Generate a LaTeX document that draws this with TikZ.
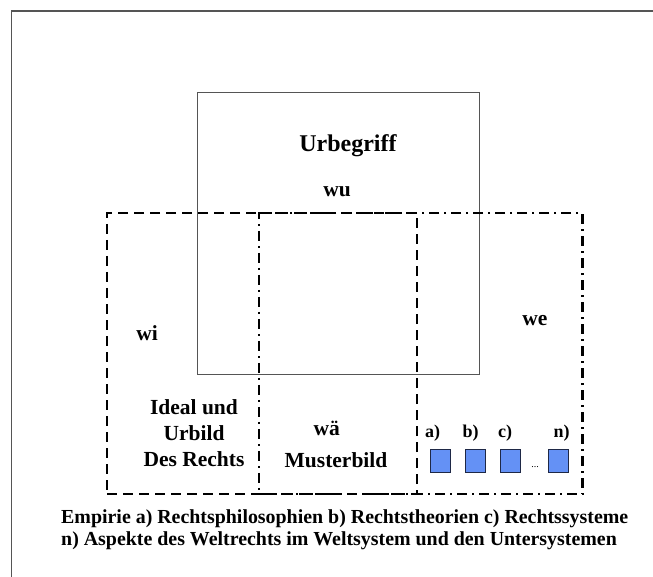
\documentclass[tikz,border=0pt]{standalone}
\usepackage{fontspec}
\setmainfont{Liberation Serif}
\usepackage{xcolor}
\definecolor{sqblue}{RGB}{100,145,245}
\definecolor{sqedge}{RGB}{30,40,70}
\definecolor{framegray}{RGB}{85,85,85}
\usepackage{tikz}
\usetikzlibrary{
  positioning
}
\tikzset{
  lbl/.style={font=\fontsize{21.5}{26}\selectfont\bfseries,
    inner sep=0pt, align=center},
  smalllbl/.style={font=\fontsize{18}{21}\selectfont\bfseries,
    inner sep=0pt},
  capt/.style={font=\fontsize{19.9}{22}\selectfont\bfseries,
    inner sep=0pt, align=left},
  urbox/.style={draw=framegray, line width=1pt, inner sep=0pt},
  idealbox/.style={draw, line width=2.5pt, inner sep=0pt,
    dash pattern=on 10pt off 6pt},
  empbox/.style={draw, line width=2.5pt, inner sep=0pt,
    dash pattern=on 10pt off 5pt on 2pt off 5pt},
  sqbox/.style={draw=sqedge, fill=sqblue, line width=1pt, inner sep=0pt,
    minimum width=20pt, minimum height=23pt},
}

\begin{document}
\begin{tikzpicture}[x=1pt, y=-1pt]
  \useasboundingbox (0,0) rectangle (653,577);

  % Frame
  \draw[framegray, line width=1.5pt] (11.5,577) -- (11.5,11) -- (653,11);

  % Urbegriff
  \node[urbox, minimum width=282.6pt, minimum height=282.3pt]
    (ur) at (338.3,233.8) {};
  \node[lbl, font=\fontsize{24}{28}\selectfont\bfseries, anchor=base]
    (urtxt) at (348,151.6) {Urbegriff};
  \node[lbl, anchor=base] (wu) at (337,197) {wu};

  % Ideal and Empirie
  \node[idealbox, minimum width=310pt, minimum height=281pt]
    (ideal) at (262,353.5) {};
  \node[empbox, minimum width=323.6pt, minimum height=281pt]
    (emp) at (420.8,353.5) {};

  \node[lbl, anchor=base] (wi) at (147,340.5) {wi};
  \node[lbl, anchor=base] (we) at (535,325.7) {we};
  \node[lbl] (urbild) at (194,433.6) {Ideal und\\Urbild\\Des Rechts};
  \node[lbl, anchor=base] (wae) at (326.7,435) {wä};
  \node[lbl, anchor=base] (muster) at (336,467.3) {Musterbild};

  % Empirie items
  \foreach \sx/\lx/\n in {440.7/432.5/a, 475/470.5/b, 510/505/c, 558/561.5/n}{
    \node[sqbox] (sq-\n) at (\sx,460.5) {};
    \node[smalllbl, anchor=base] (lb-\n) at (\lx,437) {\n)};
  }
  \node[font=\fontsize{10}{12}\selectfont, inner sep=0pt, anchor=base]
    (dots) at (535,467) {...};

  % Caption
  \node[capt, anchor=west] (caption) at (61,529.6)
    {Empirie a) Rechtsphilosophien b) Rechtstheorien c) Rechtssysteme\\
     n) Aspekte des Weltrechts im Weltsystem und den Untersystemen};
\end{tikzpicture}
\end{document}
